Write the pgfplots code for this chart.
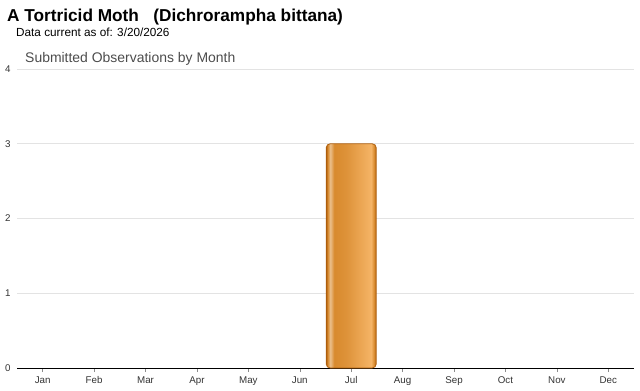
\documentclass[border=0pt]{standalone}
\usepackage{pgfplots}
\pgfplotsset{compat=1.18}
\usepackage{fontspec}
\setmainfont{Liberation Sans}
\definecolor{bdark}{HTML}{B0600E}
\definecolor{bmid}{HTML}{D88A2E}
\definecolor{bhi}{HTML}{EBC08C}
\definecolor{blight}{HTML}{F5B466}
\definecolor{gridc}{HTML}{E3E3E3}
\definecolor{txt}{HTML}{333333}
\pgfdeclarehorizontalshading{barshade}{100bp}{%
  color(0bp)=(bdark); color(25bp)=(bdark); color(26.5bp)=(bmid);
  color(29bp)=(bhi); color(33bp)=(bmid); color(45bp)=(bmid!80!blight);
  color(70bp)=(blight); color(73bp)=(bmid); color(75bp)=(bdark); color(100bp)=(bdark)}
\begin{document}
\begin{tikzpicture}[x=1bp,y=1bp]
\path[use as bounding box] (0,0) rectangle (640,390);
\node[inner sep=0pt,anchor=base west,font=\fontsize{17.3}{20}\selectfont\bfseries] at (7,369) {A Tortricid Moth\ \ \ (Dichrorampha bittana)};
\node[inner sep=0pt,anchor=base west,font=\fontsize{11.8}{14}\selectfont] at (16,354) {Data current as of: 3/20/2026};
\node[inner sep=0pt,anchor=base west,font=\fontsize{14}{17}\selectfont,text=black!70] at (25,328) {Submitted Observations by Month};
\begin{axis}[
  at={(17bp,22bp)}, anchor=south west,
  scale only axis, width=617bp, height=299bp,
  xmin=-0.5, xmax=11.5, ymin=0, ymax=4,
  ytick={0,1,2,3,4},
  xtick={0,...,11},
  xticklabels={Jan,Feb,Mar,Apr,May,Jun,Jul,Aug,Sep,Oct,Nov,Dec},
  axis x line*=bottom, axis y line*=left,
  x axis line style={draw=black, line width=0.9pt, -},
  y axis line style={draw=none},
  ytick style={draw=none},
  xtick style={draw=black!45, line width=0.5pt},
  tick align=outside, major tick length=4bp,
  ymajorgrids, grid style={draw=gridc, line width=0.6pt},
  tick label style={font=\fontsize{9.8}{11}\selectfont, text=txt},
  yticklabel style={xshift=1bp},
  xticklabel style={yshift=-1bp},
  /pgf/number format/assume math mode=true,
  ybar, bar width=50bp,
  clip=false,
]
\addplot[draw=bdark, line width=0.8pt, shading=barshade, rounded corners=4bp]
  coordinates {(6,3)};
\end{axis}
\end{tikzpicture}
\end{document}
